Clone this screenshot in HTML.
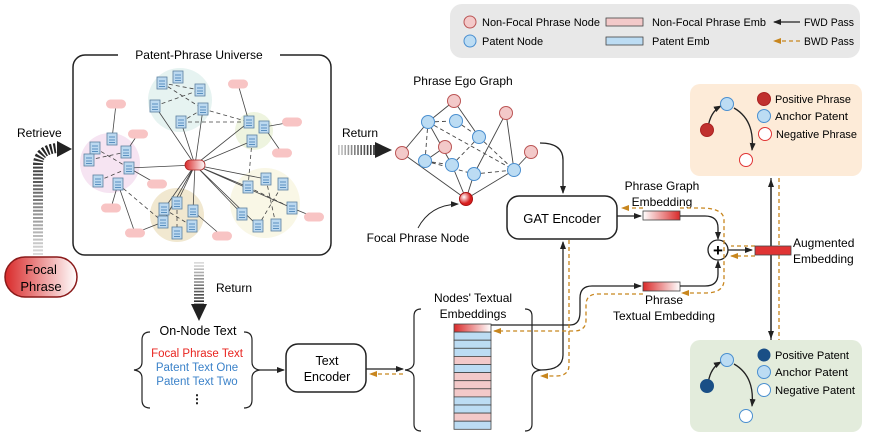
<!DOCTYPE html>
<html><head><meta charset="utf-8"><style>
html,body{margin:0;padding:0;background:#fff;}
svg{display:block;font-family:"Liberation Sans",sans-serif;}
</style></head><body>
<svg width="872" height="443" viewBox="0 0 872 443" xmlns="http://www.w3.org/2000/svg">
<defs>
<linearGradient id="red" x1="0" x2="1"><stop offset="0" stop-color="#d92a2a"/><stop offset="1" stop-color="#fff"/></linearGradient>
<linearGradient id="redr" x1="0" x2="1"><stop offset="0" stop-color="#fff"/><stop offset="1" stop-color="#d92a2a"/></linearGradient>
<radialGradient id="rn" cx="0.35" cy="0.35"><stop offset="0" stop-color="#fff"/><stop offset="1" stop-color="#d81e1e"/></radialGradient>
<linearGradient id="gv" gradientUnits="userSpaceOnUse" x1="0" y1="255" x2="0" y2="150"><stop offset="0" stop-color="#ddd"/><stop offset="1" stop-color="#222"/></linearGradient>
<linearGradient id="gd" gradientUnits="userSpaceOnUse" x1="0" y1="262" x2="0" y2="305"><stop offset="0" stop-color="#ddd"/><stop offset="1" stop-color="#222"/></linearGradient>
<linearGradient id="gh" gradientUnits="userSpaceOnUse" x1="338" y1="0" x2="375" y2="0"><stop offset="0" stop-color="#ccc"/><stop offset="1" stop-color="#222"/></linearGradient>
<marker id="ak" markerWidth="8" markerHeight="8" refX="7" refY="4" orient="auto" markerUnits="userSpaceOnUse"><path d="M0,1 L8,4 L0,7z" fill="#222"/></marker>
<marker id="ao" markerWidth="8" markerHeight="8" refX="7" refY="4" orient="auto" markerUnits="userSpaceOnUse"><path d="M0,1 L8,4 L0,7z" fill="#c8861e"/></marker>
<g id="doc"><rect x="-5" y="-6" width="10" height="12" fill="#bcd9f0" stroke="#5a7f9f" stroke-width="0.8"/><line x1="-3" y1="-2" x2="3" y2="-2" stroke="#5a90c0"/><line x1="-3" y1="1" x2="3" y2="1" stroke="#5a90c0"/><line x1="-3" y1="3.5" x2="3" y2="3.5" stroke="#5a90c0"/></g>
<rect id="pp" x="-10" y="-4.5" width="20" height="9" rx="4.5" fill="#f8c4c4"/>
</defs>

<!-- Legend -->
<rect x="450" y="4" width="410" height="54" rx="12" fill="#e8e8e8"/>
<circle cx="470" cy="22" r="6" fill="#f3c9c9" stroke="#b55" stroke-width="1"/>
<text x="482" y="26" font-size="11" textLength="118" lengthAdjust="spacingAndGlyphs">Non-Focal Phrase Node</text>
<circle cx="470" cy="41" r="6" fill="#bcdcf3" stroke="#4a8fd0" stroke-width="1"/>
<text x="482" y="45" font-size="11">Patent Node</text>
<rect x="606" y="18" width="37" height="8" fill="#f3c9c9" stroke="#444" stroke-width="0.8"/>
<text x="652" y="26" font-size="11" textLength="114" lengthAdjust="spacingAndGlyphs">Non-Focal Phrase Emb</text>
<rect x="606" y="37" width="37" height="8" fill="#bcdcf3" stroke="#444" stroke-width="0.8"/>
<text x="652" y="45" font-size="11">Patent Emb</text>
<line x1="800" y1="22" x2="774" y2="22" stroke="#222" stroke-width="1.2" marker-end="url(#ak)"/>
<text x="804" y="26" font-size="11" textLength="50" lengthAdjust="spacingAndGlyphs">FWD Pass</text>
<line x1="800" y1="41" x2="774" y2="41" stroke="#c8861e" stroke-width="1.2" stroke-dasharray="4 3" marker-end="url(#ao)"/>
<text x="804" y="45" font-size="11" textLength="50" lengthAdjust="spacingAndGlyphs">BWD Pass</text>

<!-- Universe -->
<rect x="73" y="55" width="258" height="200" rx="12" fill="#fff" stroke="#222" stroke-width="1.5"/>
<rect x="118" y="48" width="162" height="14" fill="#fff"/>
<text x="199" y="59" font-size="12" text-anchor="middle">Patent-Phrase Universe</text>
<circle cx="180" cy="100" r="32" fill="#e6f3f1"/>
<circle cx="110" cy="163" r="30" fill="#f6e4f2"/>
<circle cx="254" cy="131" r="19" fill="#eef4df"/>
<circle cx="177" cy="215" r="27" fill="#f1e8d0"/>
<circle cx="265" cy="203" r="35" fill="#f9f7e6"/>
<g stroke="#444" stroke-width="0.8" fill="none">
<path d="M195,165 L155,106 M195,165 L181,122 M195,165 L203,109 M195,165 L129,168 M195,165 L249,122 M195,165 L252,141 M195,165 L164,209 M195,165 L177,203 M195,165 L193,211 M195,165 L163,222 M195,165 L266,179 M195,165 L248,187 M195,165 L242,214 M195,165 L292,208 M195,165 L258,226"/>
<path d="M116,104 L112,139 M138,134 L126,152 M129,168 L157,184 M118,184 L111,208 M118,184 L135,233 L163,222 M238,84 L249,122 M264,127 L292,122 M264,127 L282,153 M193,211 L222,236 M292,208 L314,217"/>
</g>
<g stroke="#444" stroke-width="0.8" fill="none" stroke-dasharray="4 3">
<path d="M162,83 L200,90 M155,106 L200,90 M162,83 L203,109 M181,122 L203,109 M203,109 L249,122 M181,122 L249,122 M95,148 L129,168 M89,160 L126,152 M98,181 L129,168 M118,184 L163,222 M252,141 L248,187 M248,187 L292,208 M266,179 L276,225 M258,226 L283,184 M164,209 L192,226 M177,203 L177,233"/>
</g>
<g>
<use href="#doc" x="178" y="77"/><use href="#doc" x="162" y="83"/><use href="#doc" x="200" y="90"/><use href="#doc" x="155" y="106"/><use href="#doc" x="203" y="109"/><use href="#doc" x="181" y="122"/>
<use href="#doc" x="112" y="139"/><use href="#doc" x="95" y="148"/><use href="#doc" x="126" y="152"/><use href="#doc" x="89" y="160"/><use href="#doc" x="129" y="168"/><use href="#doc" x="98" y="181"/><use href="#doc" x="118" y="184"/>
<use href="#doc" x="249" y="122"/><use href="#doc" x="264" y="127"/><use href="#doc" x="252" y="141"/>
<use href="#doc" x="164" y="209"/><use href="#doc" x="177" y="203"/><use href="#doc" x="193" y="211"/><use href="#doc" x="163" y="222"/><use href="#doc" x="192" y="226"/><use href="#doc" x="177" y="233"/>
<use href="#doc" x="266" y="179"/><use href="#doc" x="283" y="184"/><use href="#doc" x="248" y="187"/><use href="#doc" x="292" y="208"/><use href="#doc" x="242" y="214"/><use href="#doc" x="258" y="226"/><use href="#doc" x="276" y="225"/>
<use href="#pp" x="116" y="104"/><use href="#pp" x="138" y="134"/><use href="#pp" x="238" y="84"/><use href="#pp" x="292" y="122"/><use href="#pp" x="282" y="153"/><use href="#pp" x="157" y="184"/><use href="#pp" x="111" y="208"/><use href="#pp" x="135" y="233"/><use href="#pp" x="222" y="236"/><use href="#pp" x="314" y="217"/>
</g>
<rect x="185" y="160" width="20" height="10" rx="5" fill="url(#red)" stroke="#a22" stroke-width="0.8"/>

<!-- Retrieve -->
<text x="17" y="137" font-size="12">Retrieve</text>
<path d="M38,255 L38,165 Q38,150 57,148" fill="none" stroke="url(#gv)" stroke-width="10" stroke-dasharray="2 1.6"/>
<path d="M57,141 L72,149 L57,157z" fill="#222"/>
<rect x="5" y="257" width="72" height="40" rx="20" fill="url(#red)" stroke="#8a1a1a" stroke-width="1.5"/>
<text x="41" y="274" font-size="13" text-anchor="middle">Focal</text>
<text x="41" y="291" font-size="13" text-anchor="middle">Phrase</text>

<!-- Return right -->
<line x1="338" y1="150" x2="375" y2="150" stroke="url(#gh)" stroke-width="10" stroke-dasharray="1.6 1.6"/>
<path d="M375,142 L392,150 L375,158z" fill="#222"/>
<text x="342" y="137" font-size="12">Return</text>

<!-- Return down -->
<line x1="199" y1="262" x2="199" y2="305" stroke="url(#gd)" stroke-width="10" stroke-dasharray="1.6 1.6"/>
<path d="M191,304 L207,304 L199,321z" fill="#222"/>
<text x="216" y="292" font-size="12">Return</text>

<!-- Ego graph -->
<text x="463" y="85" font-size="12" text-anchor="middle">Phrase Ego Graph</text>
<g stroke="#444" stroke-width="0.9">
<path d="M454,101 L428,122 M454,101 L479,137 M402,153 L428,122 M402,153 L466,199 M425,161 L445,147 M428,122 L452,165 M452,165 L466,199 M474,174 L466,199 M474,174 L506,113 M506,113 L514,170 M514,170 L466,199 M531,152 L514,170"/>
</g>
<g stroke="#444" stroke-width="0.9" stroke-dasharray="4 3">
<path d="M428,122 L456,121 M428,122 L425,161 M428,122 L514,170 M425,161 L452,165 M452,165 L479,137 M474,174 L514,170 M479,137 L514,170 M456,121 L479,137 M425,161 L474,174"/>
</g>
<g stroke="#b55" stroke-width="1" fill="#f3c9c9">
<circle cx="454" cy="101" r="6.5"/><circle cx="506" cy="113" r="6.5"/><circle cx="402" cy="153" r="6.5"/><circle cx="445" cy="147" r="6.5"/><circle cx="531" cy="152" r="6.5"/>
</g>
<g stroke="#4a8fd0" stroke-width="1" fill="#bcdcf3">
<circle cx="428" cy="122" r="6.5"/><circle cx="456" cy="121" r="6.5"/><circle cx="479" cy="137" r="6.5"/><circle cx="425" cy="161" r="6.5"/><circle cx="452" cy="165" r="6.5"/><circle cx="474" cy="174" r="6.5"/><circle cx="514" cy="170" r="6.5"/>
</g>
<circle cx="466" cy="199" r="6.5" fill="url(#rn)" stroke="#a11" stroke-width="1"/>
<path d="M418,228 Q430,205 458,204" fill="none" stroke="#222" stroke-width="0.9" marker-end="url(#ak)"/>
<text x="418" y="242" font-size="12" text-anchor="middle">Focal Phrase Node</text>

<!-- GAT -->
<path d="M540,143 Q563,143 563,160 L563,193" fill="none" stroke="#222" stroke-width="1.3" marker-end="url(#ak)"/>
<rect x="507" y="196" width="110" height="43" rx="12" fill="#fff" stroke="#222" stroke-width="1.5"/>
<text x="562" y="223" font-size="13" text-anchor="middle">GAT Encoder</text>

<!-- phrase graph emb -->
<text x="662" y="190" font-size="12" text-anchor="middle">Phrase Graph</text>
<text x="662" y="206" font-size="12" text-anchor="middle">Embedding</text>
<line x1="617" y1="216" x2="641" y2="216" stroke="#222" stroke-width="1.3" marker-end="url(#ak)"/>
<rect x="643" y="211" width="37" height="9" fill="url(#redr)" stroke="#444" stroke-width="0.8"/>
<path d="M680,216 L705,216 Q718,216 718,228 L718,239" fill="none" stroke="#222" stroke-width="1.3" marker-end="url(#ak)"/>
<rect x="643" y="282" width="37" height="9" fill="url(#red)" stroke="#444" stroke-width="0.8"/>
<path d="M680,286 L705,286 Q718,286 718,274 L718,261" fill="none" stroke="#222" stroke-width="1.3" marker-end="url(#ak)"/>
<text x="664" y="304" font-size="12" text-anchor="middle">Phrase</text>
<text x="664" y="320" font-size="12" text-anchor="middle">Textual Embedding</text>
<circle cx="718" cy="250" r="10" fill="#fff" stroke="#222" stroke-width="1.3"/>
<text x="718" y="256" font-size="17" text-anchor="middle" font-weight="bold">+</text>
<line x1="728" y1="250" x2="752" y2="250" stroke="#222" stroke-width="1.3" marker-end="url(#ak)"/>
<path d="M680,208 L700,208 Q724,208 724,220 L724,280 Q724,293 705,293 L682,293" fill="none" stroke="#c8861e" stroke-width="1.3" stroke-dasharray="4 3" marker-end="url(#ao)"/>
<path d="M643,208 L622,208" fill="none" stroke="#c8861e" stroke-width="1.3" stroke-dasharray="4 3" marker-end="url(#ao)"/>
<path d="M755,246 L731,246 M755,256 L731,256" fill="none" stroke="#c8861e" stroke-width="1.3" stroke-dasharray="4 3" marker-end="url(#ao)"/>
<!-- aug -->
<line x1="771" y1="340" x2="771" y2="180" stroke="#222" stroke-width="1.3" marker-end="url(#ak)"/>
<line x1="771" y1="178" x2="771" y2="338" stroke="#222" stroke-width="1.3" marker-end="url(#ak)"/>
<line x1="779" y1="178" x2="779" y2="340" stroke="#c8861e" stroke-width="1.3" stroke-dasharray="4 3"/>
<rect x="755" y="246" width="36" height="9" fill="#e03434" stroke="#444" stroke-width="0.8"/>
<text x="793" y="247" font-size="12">Augmented</text>
<text x="793" y="263" font-size="12">Embedding</text>

<!-- top triplet box -->
<rect x="690" y="84" width="172" height="92" rx="10" fill="#fdebd8"/>
<path d="M708,128 Q710,112 721,106" fill="none" stroke="#222" stroke-width="1.3" marker-end="url(#ak)"/>
<path d="M734,108 Q755,120 752,150" fill="none" stroke="#222" stroke-width="1.3" marker-end="url(#ak)"/>
<circle cx="707" cy="130" r="6.5" fill="#c0302e" stroke="#a22"/>
<circle cx="727" cy="104" r="6.5" fill="#bcdcf3" stroke="#4a8fd0"/>
<circle cx="746" cy="160" r="6.5" fill="#fff" stroke="#e03434"/>
<circle cx="764" cy="99" r="6.5" fill="#c0302e" stroke="#a22"/><text x="775" y="103" font-size="11" textLength="76" lengthAdjust="spacingAndGlyphs">Positive Phrase</text>
<circle cx="764" cy="116" r="6.5" fill="#bcdcf3" stroke="#4a8fd0"/><text x="775" y="120" font-size="11" textLength="73" lengthAdjust="spacingAndGlyphs">Anchor Patent</text>
<circle cx="765" cy="134" r="6.5" fill="#fff" stroke="#e03434"/><text x="776" y="138" font-size="11" textLength="81" lengthAdjust="spacingAndGlyphs">Negative Phrase</text>

<!-- bottom triplet box -->
<rect x="690" y="340" width="172" height="92" rx="10" fill="#e3ecdc"/>
<path d="M708,384 Q710,368 721,362" fill="none" stroke="#222" stroke-width="1.3" marker-end="url(#ak)"/>
<path d="M734,364 Q755,376 752,406" fill="none" stroke="#222" stroke-width="1.3" marker-end="url(#ak)"/>
<circle cx="707" cy="386" r="6.5" fill="#1a4f86" stroke="#1a4f86"/>
<circle cx="727" cy="360" r="6.5" fill="#bcdcf3" stroke="#4a8fd0"/>
<circle cx="746" cy="416" r="6.5" fill="#fff" stroke="#4a8fd0"/>
<circle cx="764" cy="355" r="6.5" fill="#1a4f86"/><text x="775" y="359" font-size="11" textLength="74" lengthAdjust="spacingAndGlyphs">Positive Patent</text>
<circle cx="764" cy="372" r="6.5" fill="#bcdcf3" stroke="#4a8fd0"/><text x="775" y="376" font-size="11" textLength="73" lengthAdjust="spacingAndGlyphs">Anchor Patent</text>
<circle cx="764" cy="390" r="6.5" fill="#fff" stroke="#4a8fd0"/><text x="775" y="394" font-size="11" textLength="80" lengthAdjust="spacingAndGlyphs">Negative Patent</text>

<!-- On-node text -->
<path d="M150,332 Q142,332 142,340 L142,362 Q142,369 134,370 Q142,371 142,378 L142,400 Q142,408 150,408" fill="none" stroke="#222" stroke-width="1.2"/>
<path d="M244,332 Q252,332 252,340 L252,362 Q252,369 260,370 Q252,371 252,378 L252,400 Q252,408 244,408" fill="none" stroke="#222" stroke-width="1.2"/>
<text x="198" y="335" font-size="12.5" text-anchor="middle">On-Node Text</text>
<text x="197" y="357" font-size="11.5" text-anchor="middle" fill="#e8241f">Focal Phrase Text</text>
<text x="197" y="371" font-size="11.5" text-anchor="middle" fill="#3b82c9">Patent Text One</text>
<text x="197" y="385" font-size="11.5" text-anchor="middle" fill="#3b82c9">Patent Text Two</text>
<text x="197" y="403" font-size="12" text-anchor="middle" font-weight="bold">⋮</text>
<line x1="260" y1="370" x2="284" y2="370" stroke="#222" stroke-width="1.3" marker-end="url(#ak)"/>
<rect x="286" y="344" width="80" height="48" rx="12" fill="#fff" stroke="#222" stroke-width="1.5"/>
<text x="327" y="365" font-size="12.5" text-anchor="middle">Text</text>
<text x="327" y="381" font-size="12.5" text-anchor="middle">Encoder</text>
<line x1="366" y1="369" x2="403" y2="369" stroke="#222" stroke-width="1.3" marker-end="url(#ak)"/>
<line x1="403" y1="374" x2="370" y2="374" stroke="#c8861e" stroke-width="1.3" stroke-dasharray="4 3" marker-end="url(#ao)"/>

<!-- Nodes' textual embeddings -->
<text x="473" y="302" font-size="12" text-anchor="middle">Nodes' Textual</text>
<text x="473" y="318" font-size="12" text-anchor="middle">Embeddings</text>
<path d="M421,309 Q414,309 414,316 L414,362 Q414,369 405,370 Q414,371 414,378 L414,424 Q414,431 421,431" fill="none" stroke="#222" stroke-width="1.2"/>
<path d="M525,309 Q532,309 532,316 L532,362 Q532,369 541,370 Q532,371 532,378 L532,424 Q532,431 525,431" fill="none" stroke="#222" stroke-width="1.2"/>
<g stroke="#444" stroke-width="0.8">
<rect x="454" y="324" width="37" height="8.1" fill="url(#red)"/>
<rect x="454" y="332.1" width="37" height="8.1" fill="#bcdcf3"/>
<rect x="454" y="340.2" width="37" height="8.1" fill="#bcdcf3"/>
<rect x="454" y="348.3" width="37" height="8.1" fill="#bcdcf3"/>
<rect x="454" y="356.4" width="37" height="8.1" fill="#f3c9c9"/>
<rect x="454" y="364.5" width="37" height="8.1" fill="#bcdcf3"/>
<rect x="454" y="372.6" width="37" height="8.1" fill="#f3c9c9"/>
<rect x="454" y="380.7" width="37" height="8.1" fill="#f3c9c9"/>
<rect x="454" y="388.8" width="37" height="8.1" fill="#f3c9c9"/>
<rect x="454" y="396.9" width="37" height="8.1" fill="#bcdcf3"/>
<rect x="454" y="405" width="37" height="8.1" fill="#bcdcf3"/>
<rect x="454" y="413.1" width="37" height="8.1" fill="#f3c9c9"/>
<rect x="454" y="421.2" width="37" height="8.1" fill="#bcdcf3"/>
</g>
<path d="M541,370 Q563,370 563,355 L563,242" fill="none" stroke="#222" stroke-width="1.3" marker-end="url(#ak)"/>
<path d="M491,325 L570,325 Q580,325 580,312 L580,298 Q580,286 592,286 L641,286" fill="none" stroke="#222" stroke-width="1.3" marker-end="url(#ak)"/>
<path d="M643,294 L598,294 Q586,294 586,305 L586,320 Q586,331 574,331 L494,331" fill="none" stroke="#c8861e" stroke-width="1.3" stroke-dasharray="4 3" marker-end="url(#ao)"/>
<path d="M569,240 L569,365 Q569,376 556,376 L541,376" fill="none" stroke="#c8861e" stroke-width="1.3" stroke-dasharray="4 3" marker-end="url(#ao)"/>
</svg>
</body></html>
